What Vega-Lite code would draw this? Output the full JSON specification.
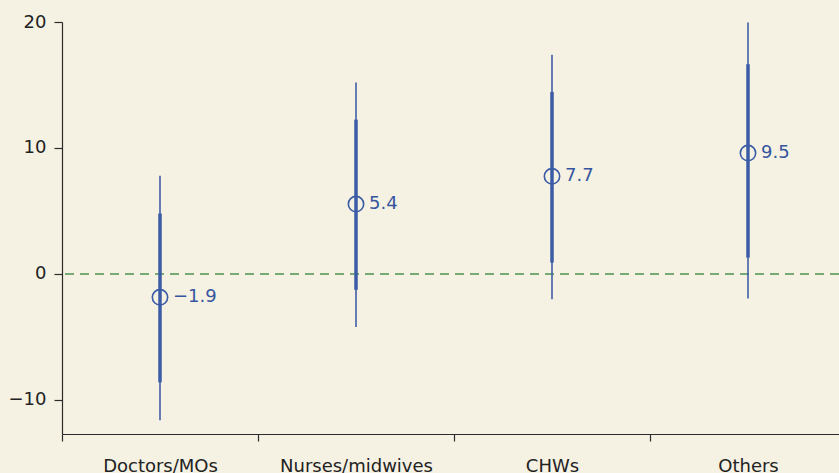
{
  "$schema": "https://vega.github.io/schema/vega-lite/v6.json",
  "autosize": {"type": "none"},
  "padding": {"left": 62, "top": 22, "right": 0, "bottom": 39},
  "width": 777,
  "height": 412,
  "background": "#f5f1e3",
  "config": {
    "view": {"stroke": null},
    "font": "DejaVu Sans",
    "axis": {
      "domainColor": "#2b2b2b",
      "tickColor": "#2b2b2b",
      "labelColor": "#222222",
      "labelFont": "DejaVu Sans",
      "labelFontSize": 18,
      "grid": false,
      "title": null,
      "domainWidth": 1.2,
      "tickWidth": 1.2
    }
  },
  "data": {
    "values": [
      {"cat": "Doctors/MOs", "est": -1.85, "lo95": -11.6, "hi95": 7.8, "lo80": -8.6, "hi80": 4.8, "lab": "\u22121.9"},
      {"cat": "Nurses/midwives", "est": 5.55, "lo95": -4.2, "hi95": 15.2, "lo80": -1.25, "hi80": 12.25, "lab": "5.4"},
      {"cat": "CHWs", "est": 7.75, "lo95": -2.0, "hi95": 17.4, "lo80": 0.9, "hi80": 14.45, "lab": "7.7"},
      {"cat": "Others", "est": 9.6, "lo95": -1.95, "hi95": 19.97, "lo80": 1.3, "hi80": 16.65, "lab": "9.5"}
    ]
  },
  "encoding": {
    "x": {
      "field": "cat",
      "type": "nominal",
      "sort": null,
      "scale": {"type": "band", "paddingInner": 0, "paddingOuter": 0, "range": [0, 784]},
      "axis": {
        "labelAngle": 0,
        "tickSize": 7,
        "bandPosition": 0.5,
        "tickOffset": -98,
        "labelOffset": 98,
        "labelPadding": 16,
        "labelBaseline": "top"
      }
    }
  },
  "layer": [
    {
      "data": {"values": [{"z": 0}]},
      "mark": {"type": "rule", "color": "#4f9450", "strokeDash": [9, 6], "strokeWidth": 1.4},
      "encoding": {"x": null, "y": {"field": "z", "type": "quantitative"}}
    },
    {
      "mark": {"type": "rule", "color": "#3f60a8", "strokeWidth": 1.6},
      "encoding": {
        "y": {
          "field": "lo95",
          "type": "quantitative",
          "scale": {"domain": [-12.7, 20], "nice": false, "zero": false},
          "axis": {"values": [-10, 0, 10, 20], "tickSize": 8, "labelPadding": 8}
        },
        "y2": {"field": "hi95"}
      }
    },
    {
      "mark": {"type": "rule", "color": "#3a5ba6", "strokeWidth": 3.5},
      "encoding": {
        "y": {"field": "lo80", "type": "quantitative"},
        "y2": {"field": "hi80"}
      }
    },
    {
      "mark": {"type": "point", "shape": "circle", "filled": false, "size": 235, "stroke": "#3a5ba6", "strokeWidth": 1.6, "opacity": 1},
      "encoding": {"y": {"field": "est", "type": "quantitative"}}
    },
    {
      "mark": {"type": "text", "align": "left", "baseline": "middle", "dx": 13, "fontSize": 18, "color": "#35569f"},
      "encoding": {
        "y": {"field": "est", "type": "quantitative"},
        "text": {"field": "lab"}
      }
    }
  ]
}
